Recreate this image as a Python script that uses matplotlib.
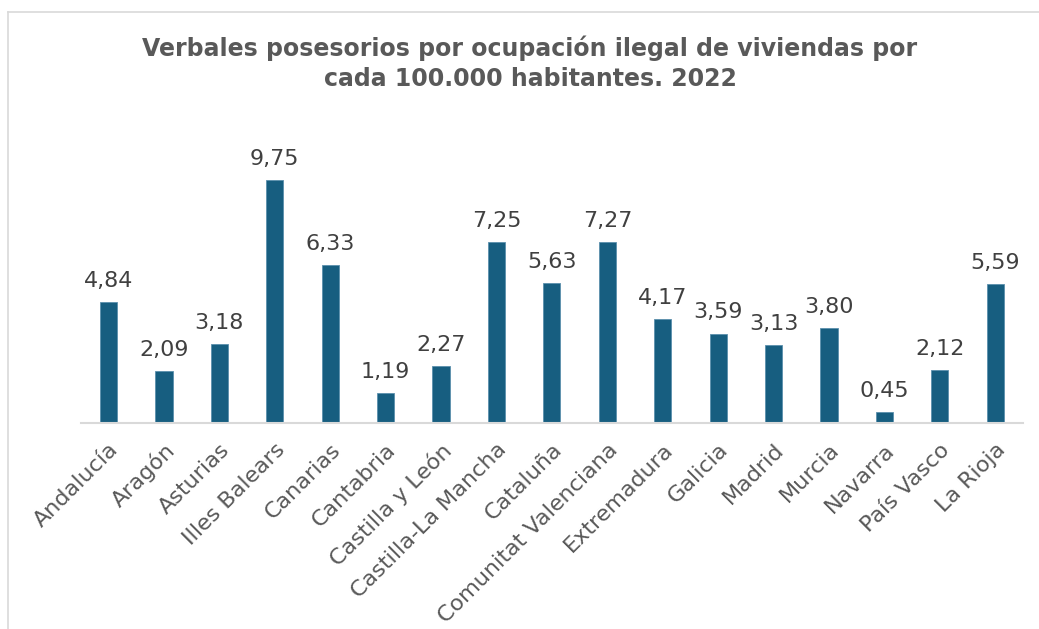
import matplotlib.pyplot as plt
from matplotlib.lines import Line2D

regiones = ["Andalucía", "Aragón", "Asturias", "Illes Balears", "Canarias", "Cantabria",
            "Castilla y León", "Castilla-La Mancha", "Cataluña", "Comunitat Valenciana",
            "Extremadura", "Galicia", "Madrid", "Murcia", "Navarra", "País Vasco", "La Rioja"]
valores = [4.84, 2.09, 3.18, 9.75, 6.33, 1.19, 2.27, 7.25, 5.63, 7.27,
           4.17, 3.59, 3.13, 3.80, 0.45, 2.12, 5.59]

titulo = "Verbales posesorios por ocupación ilegal de viviendas por\ncada 100.000 habitantes. 2022"

fig = plt.figure(figsize=(10.39, 6.29), dpi=100)
ax = fig.add_axes([80.8 / 1039, 1 - 423 / 629, (1023 - 80.8) / 1039, 299 / 629])

x = range(len(regiones))
barras = ax.bar(x, valores, width=0.31, color="#175e80", edgecolor="#5b8fad", linewidth=0.6)

for xi, v in zip(x, valores):
    ax.annotate(f"{v:.2f}".replace(".", ","), (xi, v), xytext=(0, 8),
                textcoords="offset points", ha="center", va="bottom",
                fontsize=16, color="#404040")

ax.set_xlim(-0.5, len(regiones) - 0.5)
ax.set_ylim(0, 12)
ax.set_yticks([])
ax.set_xticks(list(x))
ax.set_xticklabels(regiones, rotation=45, ha="right", rotation_mode="anchor",
                   fontsize=16, color="#595959")
ax.tick_params(axis="x", length=0, pad=12)
for lado in ["top", "right", "left"]:
    ax.spines[lado].set_visible(False)
ax.spines["bottom"].set_color("#d9d9d9")
ax.spines["bottom"].set_linewidth(1.5)

fig.text(530 / 1039, 1 - 63 / 629, titulo, ha="center", va="center",
         fontsize=17, fontweight="bold", color="#595959", linespacing=1.3)

# marco del grafico
fig.add_artist(Line2D([8 / 1039, 8 / 1039], [0, 1 - 12 / 629], color="#d9d9d9", lw=1.2))
fig.add_artist(Line2D([8 / 1039, 1], [1 - 12 / 629, 1 - 12 / 629], color="#d9d9d9", lw=1.2))

fig.savefig("out.png", dpi=100)
plt.close("all")
